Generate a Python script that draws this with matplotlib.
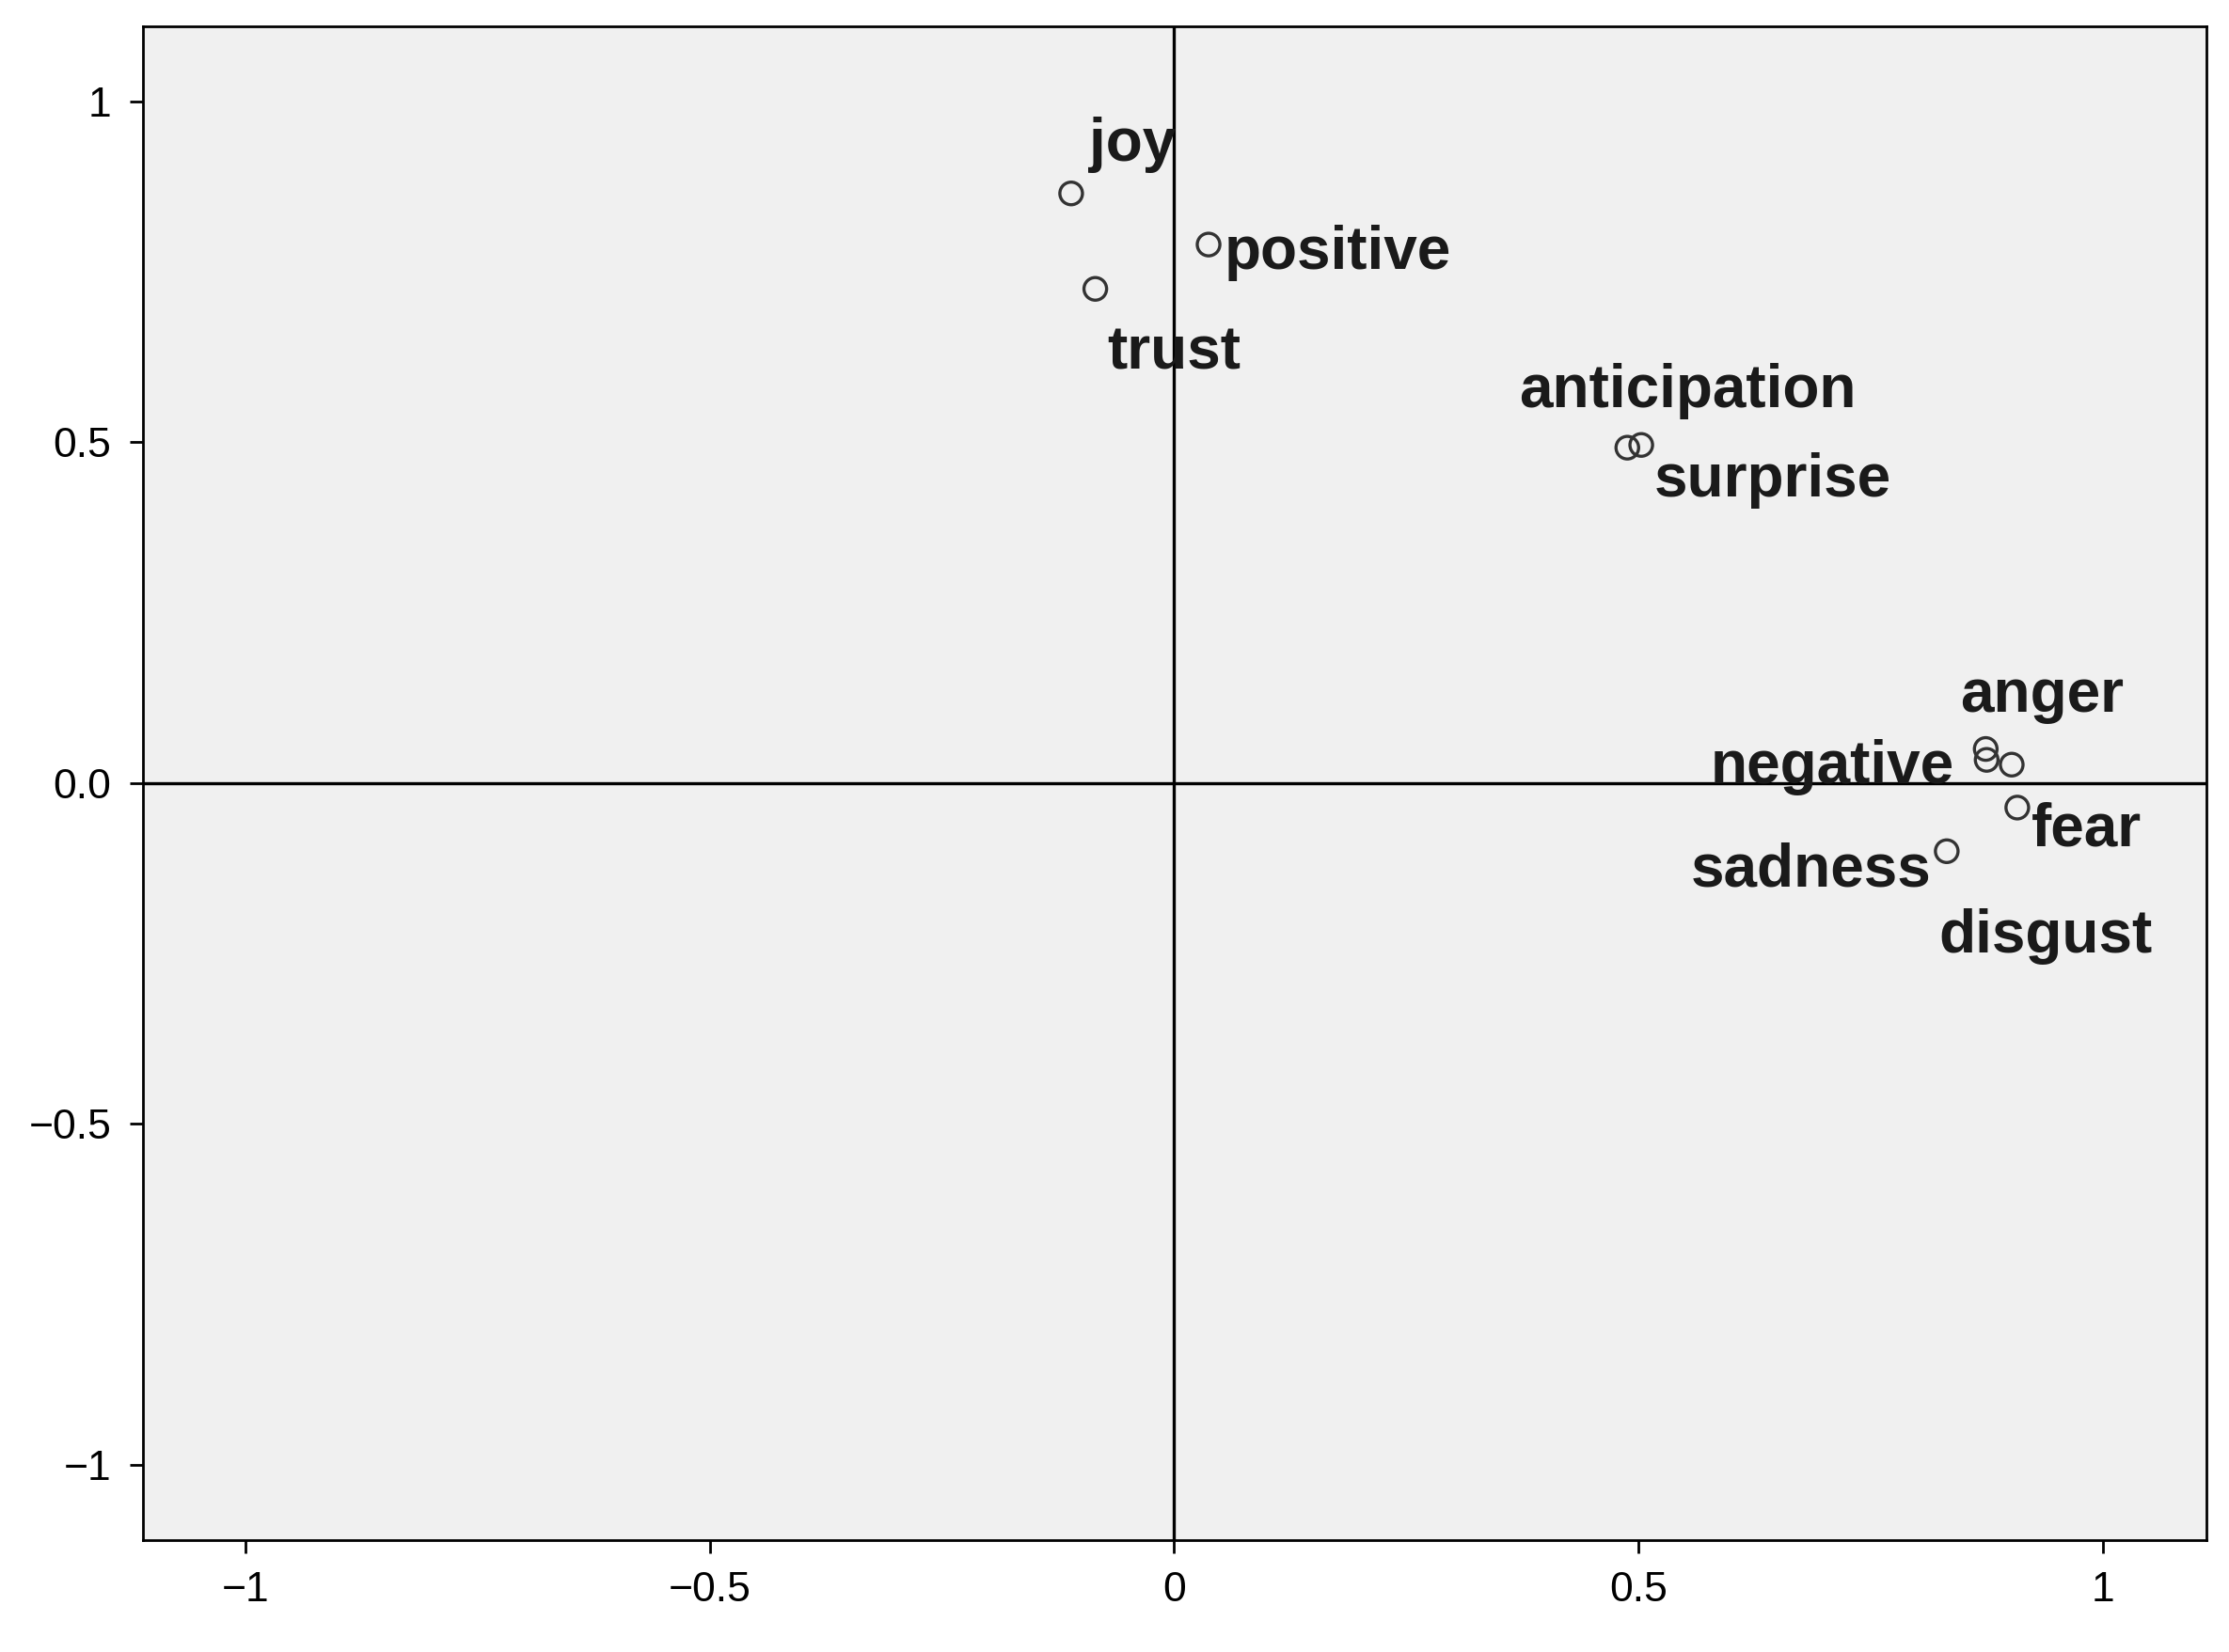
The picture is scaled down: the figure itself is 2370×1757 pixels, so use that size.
import matplotlib
matplotlib.use('Agg')
import matplotlib.pyplot as plt

# coordinates of the category points
labels = ['joy', 'positive', 'trust', 'anticipation', 'surprise',
          'anger', 'negative', 'disgust', 'fear', 'sadness']
xs = [-0.111, 0.037, -0.085, 0.488, 0.503, 0.874, 0.875, 0.902, 0.908, 0.832]
ys = [0.865, 0.790, 0.725, 0.492, 0.496, 0.050, 0.034, 0.027, -0.036, -0.100]

# label anchor points (data units) and alignment
lab_x = [-0.092, 0.054, -0.072, 0.371, 0.517, 0.846, 0.840, 0.823, 0.923, 0.815]
lab_y = [0.913, 0.754, 0.607, 0.551, 0.421, 0.105, 0.000, -0.249, -0.092, -0.151]
lab_ha = ['left', 'left', 'left', 'left', 'left', 'left', 'right', 'left', 'left', 'right']

xticks = [-1, -0.5, 0, 0.5, 1]
xticklabels = ['\u22121', '\u22120.5', '0', '0.5', '1']
yticks = [-1, -0.5, 0, 0.5, 1]
yticklabels = ['\u22121', '\u22120.5', '0.0', '0.5', '1']

plt.rcParams['font.family'] = ['Liberation Sans', 'DejaVu Sans']
fig = plt.figure(figsize=(23.7, 17.57), dpi=100)
ax = fig.add_axes([0.064, 0.068, 0.926, 0.916])
ax.set_facecolor('#f0f0f0')

ax.axhline(0, color='black', lw=2.4, zorder=1)
ax.axvline(0, color='black', lw=2.4, zorder=1)
ax.scatter(xs, ys, s=300, facecolors='none', edgecolors='#333333', linewidths=2.4, zorder=3)

for t, x, y, ha in zip(labels, lab_x, lab_y, lab_ha):
    ax.text(x, y, t, fontsize=46, fontweight='bold', ha=ha, va='baseline',
            color='#1a1a1a', zorder=4)

ax.set_xlim(-1.111, 1.112)
ax.set_ylim(-1.11, 1.11)
ax.set_xticks(xticks)
ax.set_xticklabels(xticklabels)
ax.set_yticks(yticks)
ax.set_yticklabels(yticklabels)
ax.tick_params(labelsize=32, length=10, width=2, pad=14)
for s in ax.spines.values():
    s.set_linewidth(2)

fig.savefig('out.png', dpi=100)
